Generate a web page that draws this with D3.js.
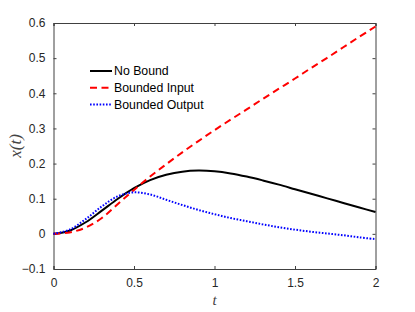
<!DOCTYPE html>
<html>
<head>
<meta charset="utf-8">
<script src="https://cdn.jsdelivr.net/npm/d3@7"></script>
<style>
  body { margin: 0; background: #fff; }
  .axis text { font-family: "Liberation Sans", Arial, sans-serif; font-size: 12px; fill: #262626; }
  .axis path, .axis line { stroke: #404040; }
  .legend text { font-family: "Liberation Sans", Arial, sans-serif; font-size: 12.3px; fill: #000; }
</style>
</head>
<body>
<div id="chart"></div>
<script>
// time samples
const tVals = [0, 0.1, 0.2, 0.3, 0.4, 0.5, 0.6, 0.7, 0.8, 0.9, 1.0, 1.1, 1.2, 1.3, 1.4, 1.5, 1.6, 1.7, 1.8, 1.9, 2.0];
// series values
const noBound = [0, 0.009, 0.033, 0.066, 0.1, 0.13, 0.153, 0.168, 0.177, 0.18, 0.178, 0.172, 0.163, 0.152, 0.14, 0.127, 0.114, 0.101, 0.088, 0.075, 0.062];
const boundedInput = [0, 0.004, 0.018, 0.045, 0.085, 0.125, 0.163, 0.198, 0.232, 0.264, 0.295, 0.325, 0.354, 0.384, 0.413, 0.442, 0.472, 0.501, 0.531, 0.561, 0.59];
const boundedOutput = [0, 0.012, 0.042, 0.078, 0.107, 0.118, 0.112, 0.097, 0.082, 0.068, 0.056, 0.045, 0.036, 0.027, 0.019, 0.012, 0.006, 0.001, -0.004, -0.01, -0.015];
const seriesNames = ["No Bound", "Bounded Input", "Bounded Output"];
const xTicks = [0, 0.5, 1, 1.5, 2];
const yTicks = [-0.1, 0, 0.1, 0.2, 0.3, 0.4, 0.5, 0.6];

const W = 415, H = 312;
const margin = {top: 23, right: 39.5, bottom: 43, left: 53.5},
      width = W - margin.left - margin.right,
      height = H - margin.top - margin.bottom;

const svg = d3.select("#chart").append("svg")
  .attr("width", W)
  .attr("height", H)
  .append("g")
  .attr("transform", "translate(" + margin.left + "," + margin.top + ")");

const x = d3.scaleLinear().domain([0, 2]).range([0, width]);
const y = d3.scaleLinear().domain([-0.1, 0.6]).range([height, 0]);

function fmt(d) { return d3.format("")(+d.toFixed(2)); }

// axes, ticks inward (matlab style) on all four sides
svg.append("g").attr("class", "axis")
  .attr("transform", "translate(0," + height + ")")
  .call(d3.axisBottom(x).tickValues(xTicks).tickSize(-3).tickPadding(9).tickFormat(fmt));
svg.append("g").attr("class", "axis")
  .call(d3.axisTop(x).tickValues(xTicks).tickSize(-3).tickFormat(""));
svg.append("g").attr("class", "axis")
  .call(d3.axisLeft(y).tickValues(yTicks).tickSize(-3).tickPadding(8).tickFormat(fmt));
svg.append("g").attr("class", "axis")
  .attr("transform", "translate(" + width + ",0)")
  .call(d3.axisRight(y).tickValues(yTicks).tickSize(-3).tickFormat(""));

const series = [
  {name: seriesNames[0], vals: noBound, color: "#000", dash: null},
  {name: seriesNames[1], vals: boundedInput, color: "#ff0000", dash: "7,4.5"},
  {name: seriesNames[2], vals: boundedOutput, color: "#0000ff", dash: "1.6,1.6"}
];

const line = d3.line()
  .x(function(d) { return x(d[0]); })
  .y(function(d) { return y(d[1]); })
  .curve(d3.curveCatmullRom);

series.forEach(function(s) {
  svg.append("path")
    .datum(tVals.map(function(t, i) { return [t, s.vals[i]]; }))
    .attr("fill", "none")
    .attr("stroke", s.color)
    .attr("stroke-width", 2)
    .attr("stroke-dasharray", s.dash)
    .attr("d", line);
});

// legend
const lg = svg.append("g").attr("class", "legend")
  .attr("transform", "translate(36.5,48)");
series.forEach(function(s, i) {
  const row = lg.append("g").attr("transform", "translate(0," + (i * 16.8) + ")");
  row.append("line")
    .attr("x1", 0).attr("x2", 22)
    .attr("stroke", s.color)
    .attr("stroke-width", 2)
    .attr("stroke-dasharray", s.dash);
  row.append("text")
    .attr("x", 24)
    .attr("dy", "0.35em")
    .text(s.name);
});

// axis labels
svg.append("text")
  .attr("x", width / 2)
  .attr("y", height + 36)
  .attr("text-anchor", "middle")
  .style("font-family", "'Liberation Serif', serif")
  .style("font-style", "italic")
  .style("font-size", "15px")
  .style("fill", "#444")
  .text("t");

svg.append("text")
  .attr("transform", "translate(-38," + (height / 2) + ") rotate(-90)")
  .attr("text-anchor", "middle")
  .attr("dy", "0.35em")
  .style("font-family", "'Liberation Serif', serif")
  .style("font-style", "italic")
  .style("font-size", "17px")
  .style("fill", "#444")
  .text("x(t)");
</script>
</body>
</html>
